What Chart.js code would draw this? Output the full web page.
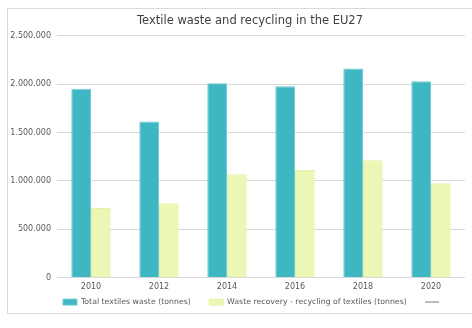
<!DOCTYPE html>
<html>
<head>
<meta charset="utf-8">
<script src="https://cdn.jsdelivr.net/npm/chart.js@4.4.1/dist/chart.umd.min.js"></script>
<style>
  body { margin: 0; background: #fff; }
  #frame { position: absolute; left: 7px; top: 8px; width: 470px; height: 304px; border: 1px solid #d9d9d9; }
  #wrap { position: absolute; left: 0; top: 0; width: 472px; height: 328px; }
</style>
</head>
<body>
<div id="frame"></div>
<div id="wrap"><canvas id="myChart"></canvas></div>
<script>
// data
const years = ["2010", "2012", "2014", "2016", "2018", "2020"];
const totalWaste = [1953000, 1615000, 2009000, 1978000, 2161000, 2030000];
const recycling = [719000, 768000, 1068000, 1113000, 1214000, 975000];
const yTicks = [0, 500000, 1000000, 1500000, 2000000, 2500000];

const font = "'DejaVu Sans', sans-serif";

// 2.500.000 style
function dotted(v) {
  return v.toString().replace(/\B(?=(\d{3})+(?!\d))/g, ".");
}

// title and legend are centred on the plot, not on the whole canvas
const shiftBoxes = {
  id: "shiftBoxes",
  afterLayout(chart) {
    chart.titleBlock.left += 35;
    chart.legend.left += 41;
  }
};

const ctx = document.getElementById("myChart").getContext("2d");
const myChart = new Chart(ctx, {
  type: "bar",
  data: {
    labels: years,
    datasets: [
      {
        label: "Total textiles waste (tonnes)",
        data: totalWaste,
        backgroundColor: "#3fb7c3",
        borderColor: "#72ccd5",
        borderWidth: 1,
        pointStyle: "rect",
        categoryPercentage: 0.58,
        barPercentage: 1
      },
      {
        label: "Waste recovery - recycling of textiles (tonnes)",
        data: recycling,
        backgroundColor: "#ebf7b4",
        borderColor: "#e3f2a6",
        borderWidth: 1,
        pointStyle: "rect",
        categoryPercentage: 0.58,
        barPercentage: 1
      },
      {
        type: "line",
        label: "",
        data: [],
        borderColor: "#a6a6a6",
        backgroundColor: "#a6a6a6",
        borderWidth: 1.5,
        pointStyle: "line"
      }
    ]
  },
  plugins: [shiftBoxes],
  options: {
    responsive: true,
    maintainAspectRatio: false,
    animation: false,
    layout: { padding: { left: 0, right: 7, top: 0, bottom: 12 } },
    plugins: {
      title: {
        display: true,
        text: "Textile waste and recycling in the EU27",
        color: "#404040",
        font: { family: font, size: 11.5, weight: "normal" },
        padding: { top: 14, bottom: 8 }
      },
      legend: {
        position: "bottom",
        labels: {
          usePointStyle: true,
          pointStyleWidth: 14,
          boxHeight: 6,
          padding: 1,
          color: "#595959",
          font: { family: font, size: 7.8 },
          generateLabels: (chart) => {
            const items = Chart.defaults.plugins.legend.labels.generateLabels(chart);
            items.forEach((it, i) => {
              if (i < 2) it.text = it.text + "       ";
            });
            return items;
          }
        }
      },
      tooltip: { enabled: false }
    },
    scales: {
      x: {
        grid: { display: false, drawTicks: false },
        border: { display: false },
        ticks: { color: "#595959", font: { family: font, size: 8 }, padding: 5 }
      },
      y: {
        min: 0,
        max: 2500000,
        afterFit: (s) => { s.width = 57; },
        afterBuildTicks: (s) => { s.ticks = yTicks.map((v) => ({ value: v })); },
        grid: { color: "#d9d9d9", drawTicks: false },
        border: { display: false },
        ticks: {
          color: "#595959",
          font: { family: font, size: 8 },
          padding: 6,
          callback: (v) => dotted(v)
        }
      }
    }
  }
});
</script>
</body>
</html>
